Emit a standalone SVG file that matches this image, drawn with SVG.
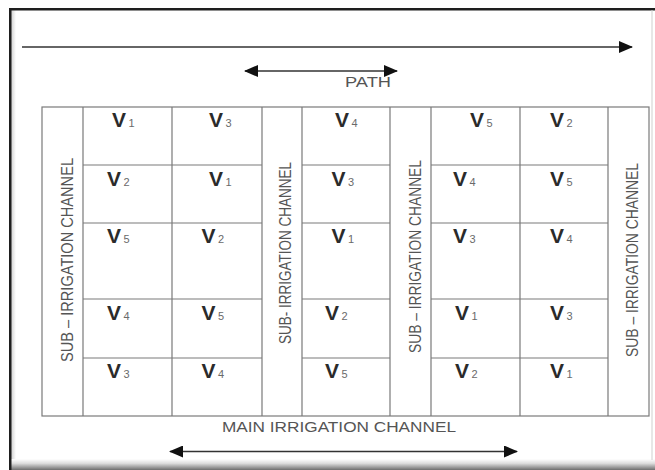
<svg xmlns="http://www.w3.org/2000/svg" width="655" height="470" viewBox="0 0 655 470">
<defs>
<style>
.grid{stroke:#7a7a7a;stroke-width:1.2;fill:none}
.v{font-family:"Liberation Sans",Arial,sans-serif;font-size:21px;font-weight:bold;fill:#2b2b2b}
.s{font-size:11px;font-weight:normal;fill:#6a6a6a}
.ch{font-family:"Liberation Sans",Arial,sans-serif;font-size:15px;fill:#555}
.lbl{font-family:"Liberation Sans",Arial,sans-serif;fill:#555}
.arr{stroke:#333;stroke-width:1.6;fill:none}
</style>
<marker id="ah" viewBox="0 0 14 12" refX="13" refY="6" markerWidth="14" markerHeight="12" markerUnits="userSpaceOnUse" orient="auto-start-reverse">
<path d="M0,0 L14,6 L0,12 Z" fill="#111"/>
</marker>
<linearGradient id="bot" x1="0" y1="0" x2="0" y2="1">
<stop offset="0" stop-color="#ffffff"/>
<stop offset="0.4" stop-color="#dcdcdc"/>
<stop offset="1" stop-color="#6e6e6e"/>
</linearGradient>
<linearGradient id="lft" x1="0" y1="0" x2="1" y2="0">
<stop offset="0" stop-color="#d0d0d0"/>
<stop offset="1" stop-color="#ffffff"/>
</linearGradient>
</defs>
<rect x="0" y="0" width="655" height="470" fill="#ffffff"/>
<g id="frame">
<rect x="11" y="10" width="5" height="452" fill="url(#lft)"/>
<rect x="9" y="459" width="646" height="11" fill="url(#bot)"/>
<rect x="9" y="8" width="646" height="2.5" fill="#1e1e1e"/>
<rect x="9" y="8" width="2.5" height="462" fill="#1e1e1e"/>
<line x1="652" y1="10" x2="652" y2="460" stroke="#cfcfcf" stroke-width="1"/>
</g>
<g id="field">
<rect class="grid" x="42" y="107" width="607" height="309"/>
<path class="grid" d="M83,107V416 M172,107V416 M262,107V416 M302,107V416 M390,107V416 M431,107V416 M520,107V416 M608,107V416"/>
<path class="grid" d="M83,165H262 M83,223H262 M83,299H262 M83,358H262 M302,165H390 M302,223H390 M302,299H390 M302,358H390 M431,165H608 M431,223H608 M431,299H608 M431,358H608"/>
</g>
<g id="sub-channel-1"><text class="lbl" font-size="16" transform="translate(73,260) rotate(-90)" text-anchor="middle" textLength="204" lengthAdjust="spacingAndGlyphs">SUB – IRRIGATION CHANNEL</text></g>
<g id="sub-channel-2"><text class="lbl" font-size="16" transform="translate(291,253) rotate(-90)" text-anchor="middle" textLength="182" lengthAdjust="spacingAndGlyphs">SUB- IRRIGATION CHANNEL</text></g>
<g id="sub-channel-3"><text class="lbl" font-size="16" transform="translate(421,256.5) rotate(-90)" text-anchor="middle" textLength="193" lengthAdjust="spacingAndGlyphs">SUB – IRRIGATION CHANNEL</text></g>
<g id="sub-channel-4"><text class="lbl" font-size="16" transform="translate(638,260) rotate(-90)" text-anchor="middle" textLength="194" lengthAdjust="spacingAndGlyphs">SUB – IRRIGATION CHANNEL</text></g>
<g id="col1">
<text class="v" x="112" y="127">V<tspan class="s" dx="2.5">1</tspan></text>
<text class="v" x="107" y="186">V<tspan class="s" dx="2.5">2</tspan></text>
<text class="v" x="107" y="243">V<tspan class="s" dx="2.5">5</tspan></text>
<text class="v" x="107" y="320">V<tspan class="s" dx="2.5">4</tspan></text>
<text class="v" x="107" y="378">V<tspan class="s" dx="2.5">3</tspan></text>
</g>
<g id="col2">
<text class="v" x="209" y="127">V<tspan class="s" dx="2.5">3</tspan></text>
<text class="v" x="209" y="186">V<tspan class="s" dx="2.5">1</tspan></text>
<text class="v" x="201.5" y="243">V<tspan class="s" dx="2.5">2</tspan></text>
<text class="v" x="201.5" y="320">V<tspan class="s" dx="2.5">5</tspan></text>
<text class="v" x="201.5" y="378">V<tspan class="s" dx="2.5">4</tspan></text>
</g>
<g id="col3">
<text class="v" x="335" y="127">V<tspan class="s" dx="2.5">4</tspan></text>
<text class="v" x="331.5" y="186">V<tspan class="s" dx="2.5">3</tspan></text>
<text class="v" x="331.5" y="243">V<tspan class="s" dx="2.5">1</tspan></text>
<text class="v" x="325" y="320">V<tspan class="s" dx="2.5">2</tspan></text>
<text class="v" x="325" y="378">V<tspan class="s" dx="2.5">5</tspan></text>
</g>
<g id="col4">
<text class="v" x="470" y="127">V<tspan class="s" dx="2.5">5</tspan></text>
<text class="v" x="453" y="186">V<tspan class="s" dx="2.5">4</tspan></text>
<text class="v" x="453" y="243">V<tspan class="s" dx="2.5">3</tspan></text>
<text class="v" x="455" y="320">V<tspan class="s" dx="2.5">1</tspan></text>
<text class="v" x="455" y="378">V<tspan class="s" dx="2.5">2</tspan></text>
</g>
<g id="col5">
<text class="v" x="550" y="127">V<tspan class="s" dx="2.5">2</tspan></text>
<text class="v" x="550" y="186">V<tspan class="s" dx="2.5">5</tspan></text>
<text class="v" x="550" y="243">V<tspan class="s" dx="2.5">4</tspan></text>
<text class="v" x="550" y="320">V<tspan class="s" dx="2.5">3</tspan></text>
<text class="v" x="550" y="378">V<tspan class="s" dx="2.5">1</tspan></text>
</g>
<g id="path-label"><text class="lbl" font-size="14" x="345" y="87" textLength="46" lengthAdjust="spacingAndGlyphs">PATH</text></g>
<g id="main-channel-label"><text class="ch" x="222" y="431.5" textLength="234" lengthAdjust="spacingAndGlyphs">MAIN IRRIGATION CHANNEL</text></g>
<g id="connectors">
<line class="arr" x1="22" y1="47" x2="632" y2="47" marker-end="url(#ah)"/>
<line class="arr" x1="245" y1="71" x2="397" y2="71" marker-start="url(#ah)" marker-end="url(#ah)"/>
<line class="arr" x1="170" y1="451.5" x2="517" y2="451.5" marker-start="url(#ah)" marker-end="url(#ah)"/>
</g>
</svg>
